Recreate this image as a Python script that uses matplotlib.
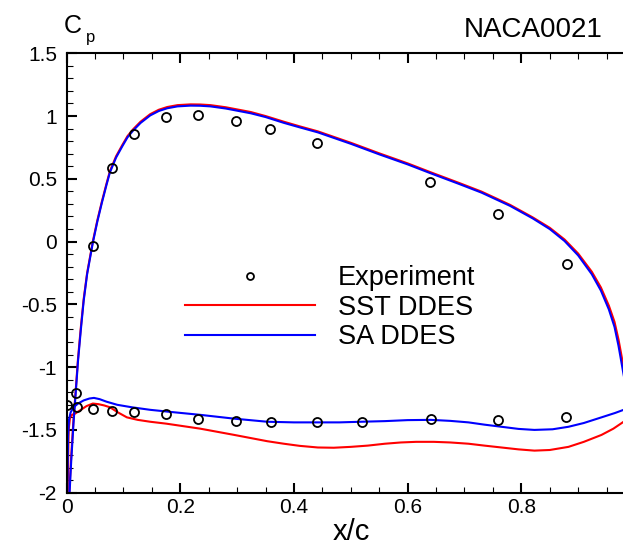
import matplotlib
matplotlib.use("Agg")
import matplotlib.pyplot as plt
from matplotlib.ticker import MultipleLocator, FuncFormatter
from matplotlib.lines import Line2D

plt.rcParams['font.family'] = ['Liberation Sans', 'DejaVu Sans']
plt.rcParams['axes.unicode_minus'] = False

# experiment (pressure side, then suction side)
exp_x = [0.0, 0.016, 0.046, 0.079, 0.119, 0.174, 0.231, 0.298, 0.358, 0.44,
         0.639, 0.759, 0.881,
         0.018, 0.046, 0.08, 0.119, 0.175, 0.231, 0.298, 0.36, 0.44, 0.519,
         0.641, 0.759, 0.879]
exp_cp = [-1.30, -1.205, -0.035, 0.585, 0.856, 0.991, 1.007, 0.959, 0.895, 0.784,
          0.473, 0.22, -0.18,
          -1.32, -1.33, -1.35, -1.36, -1.37, -1.41, -1.43, -1.44, -1.44, -1.435,
          -1.41, -1.42, -1.40]

# pressure side
ps_x = [0.0, 0.004, 0.008, 0.012, 0.016, 0.020, 0.025, 0.030, 0.036, 0.046,
        0.054, 0.062, 0.070, 0.076, 0.087, 0.098, 0.107, 0.117, 0.130, 0.147,
        0.162, 0.177, 0.195, 0.218, 0.235, 0.253, 0.280, 0.324, 0.350, 0.382,
        0.410, 0.442, 0.470, 0.500, 0.550, 0.600, 0.640, 0.690, 0.730, 0.780,
        0.820, 0.850, 0.876, 0.900, 0.924, 0.940, 0.954, 0.964, 0.971, 0.980,
        0.990, 1.0]
sa_ps = [-2.5, -2.1, -1.75, -1.45, -1.2, -0.95, -0.70, -0.47, -0.26, -0.01,
         0.16, 0.31, 0.45, 0.55, 0.67, 0.76, 0.83, 0.885, 0.945, 1.005,
         1.04, 1.062, 1.077, 1.083, 1.082, 1.077, 1.06, 1.022, 0.992, 0.946,
         0.91, 0.87, 0.826, 0.779, 0.695, 0.615, 0.545, 0.46, 0.39, 0.285,
         0.185, 0.10, 0.005, -0.11, -0.26, -0.39, -0.54, -0.68, -0.83, -1.06,
         -1.3, -1.48]
sst_ps = [-2.45, -2.05, -1.71, -1.42, -1.18, -0.93, -0.68, -0.455, -0.25, 0.0,
          0.17, 0.32, 0.46, 0.56, 0.68, 0.77, 0.84, 0.895, 0.955, 1.015,
          1.05, 1.072, 1.087, 1.093, 1.092, 1.087, 1.07, 1.032, 1.0, 0.955,
          0.918, 0.878, 0.834, 0.787, 0.703, 0.623, 0.553, 0.468, 0.398, 0.293,
          0.193, 0.11, 0.017, -0.095, -0.24, -0.365, -0.51, -0.64, -0.78, -1.0,
          -1.24, -1.44]

# suction side
sa_ss_x = [0.0, 0.0015, 0.0025, 0.004, 0.007, 0.012, 0.020, 0.030, 0.040, 0.048,
           0.058, 0.070, 0.089, 0.115, 0.147, 0.190, 0.235, 0.294, 0.353, 0.400,
           0.442, 0.480, 0.518, 0.560, 0.600, 0.641, 0.675, 0.707, 0.735, 0.765,
           0.795, 0.823, 0.855, 0.883, 0.910, 0.941, 0.965, 0.980, 1.0]
sa_ss = [-2.3, -1.9, -1.55, -1.42, -1.36, -1.32, -1.29, -1.265, -1.25, -1.245,
         -1.255, -1.275, -1.30, -1.32, -1.34, -1.36, -1.38, -1.41, -1.435, -1.44,
         -1.44, -1.44, -1.435, -1.43, -1.422, -1.42, -1.428, -1.44, -1.458, -1.475,
         -1.492, -1.50, -1.495, -1.475, -1.445, -1.40, -1.365, -1.34, -1.30]
sst_ss_x = [0.0, 0.002, 0.0035, 0.006, 0.0094, 0.015, 0.025, 0.035, 0.046, 0.056,
            0.066, 0.0764, 0.090, 0.106, 0.125, 0.147, 0.175, 0.205, 0.235, 0.265,
            0.295, 0.324, 0.353, 0.382, 0.410, 0.442, 0.470, 0.500, 0.530, 0.560,
            0.588, 0.615, 0.646, 0.675, 0.707, 0.735, 0.765, 0.795, 0.823, 0.850,
            0.883, 0.910, 0.941, 0.962, 0.980, 1.0]
sst_ss = [-2.3, -1.9, -1.5, -1.40, -1.38, -1.37, -1.34, -1.31, -1.29, -1.295,
          -1.305, -1.32, -1.36, -1.40, -1.42, -1.435, -1.45, -1.47, -1.49, -1.515,
          -1.54, -1.565, -1.59, -1.61, -1.627, -1.64, -1.642, -1.635, -1.625, -1.61,
          -1.60, -1.595, -1.595, -1.60, -1.61, -1.625, -1.64, -1.655, -1.665, -1.66,
          -1.635, -1.595, -1.54, -1.49, -1.435, -1.38]

red = '#ff0000'
blue = '#0000ff'

fig = plt.figure(figsize=(6.23, 5.47), dpi=100)
ax = fig.add_axes([0.107, 0.0993, 0.9095, 0.8033])

ax.plot(ps_x, sst_ps, color=red, lw=1.5)
ax.plot(sst_ss_x, sst_ss, color=red, lw=1.5)
ax.plot(ps_x, sa_ps, color=blue, lw=1.5)
ax.plot(sa_ss_x, sa_ss, color=blue, lw=1.5)
ax.plot(exp_x, exp_cp, 'o', mfc='none', mec='black', mew=1.3, ms=6.5)

ax.set_xlim(0, 0.997)
ax.set_ylim(-2, 1.5)
ax.xaxis.set_major_locator(MultipleLocator(0.2))
ax.xaxis.set_minor_locator(MultipleLocator(0.05))
ax.yaxis.set_major_locator(MultipleLocator(0.5))
ax.yaxis.set_minor_locator(MultipleLocator(0.1))
fmt = FuncFormatter(lambda v, p: '%g' % round(v, 3))
ax.xaxis.set_major_formatter(fmt)
ax.yaxis.set_major_formatter(fmt)
ax.set_xticks([0, 0.2, 0.4, 0.6, 0.8])

for s in ax.spines.values():
    s.set_linewidth(1.5)
ax.tick_params(which='both', direction='in', top=True, right=True)
ax.tick_params(which='major', length=7.5, width=1.5, labelsize=15)
ax.tick_params(which='minor', length=4.5, width=0.8)
ax.tick_params(axis='y', which='major', pad=7)
ax.tick_params(axis='x', which='major', pad=4)

handles = [Line2D([], [], ls='none', marker='o', mfc='none', mec='black', mew=1.3, ms=5),
           Line2D([], [], color=red, lw=1.5),
           Line2D([], [], color=blue, lw=1.5)]
ax.legend(handles, ['Experiment', 'SST DDES', 'SA DDES'], loc='upper left',
          bbox_to_anchor=(185 / 623, 1 - 265 / 547), bbox_transform=fig.transFigure,
          frameon=False, fontsize=19.5, handlelength=4.8, handletextpad=0.85,
          labelspacing=0.13, borderpad=0, borderaxespad=0)

fig.text(64 / 623, 1 - 33 / 547, 'C', fontsize=18, ha='left', va='baseline')
fig.text(86 / 623, 1 - 42 / 547, 'p', fontsize=12, ha='left', va='baseline')
fig.text(603 / 623, 1 - 37 / 547, 'NACA0021', fontsize=20, ha='right', va='baseline')
fig.text(351 / 623, 1 - 540 / 547, 'x/c', fontsize=21, ha='center', va='baseline')

fig.savefig('out.png', dpi=100)
